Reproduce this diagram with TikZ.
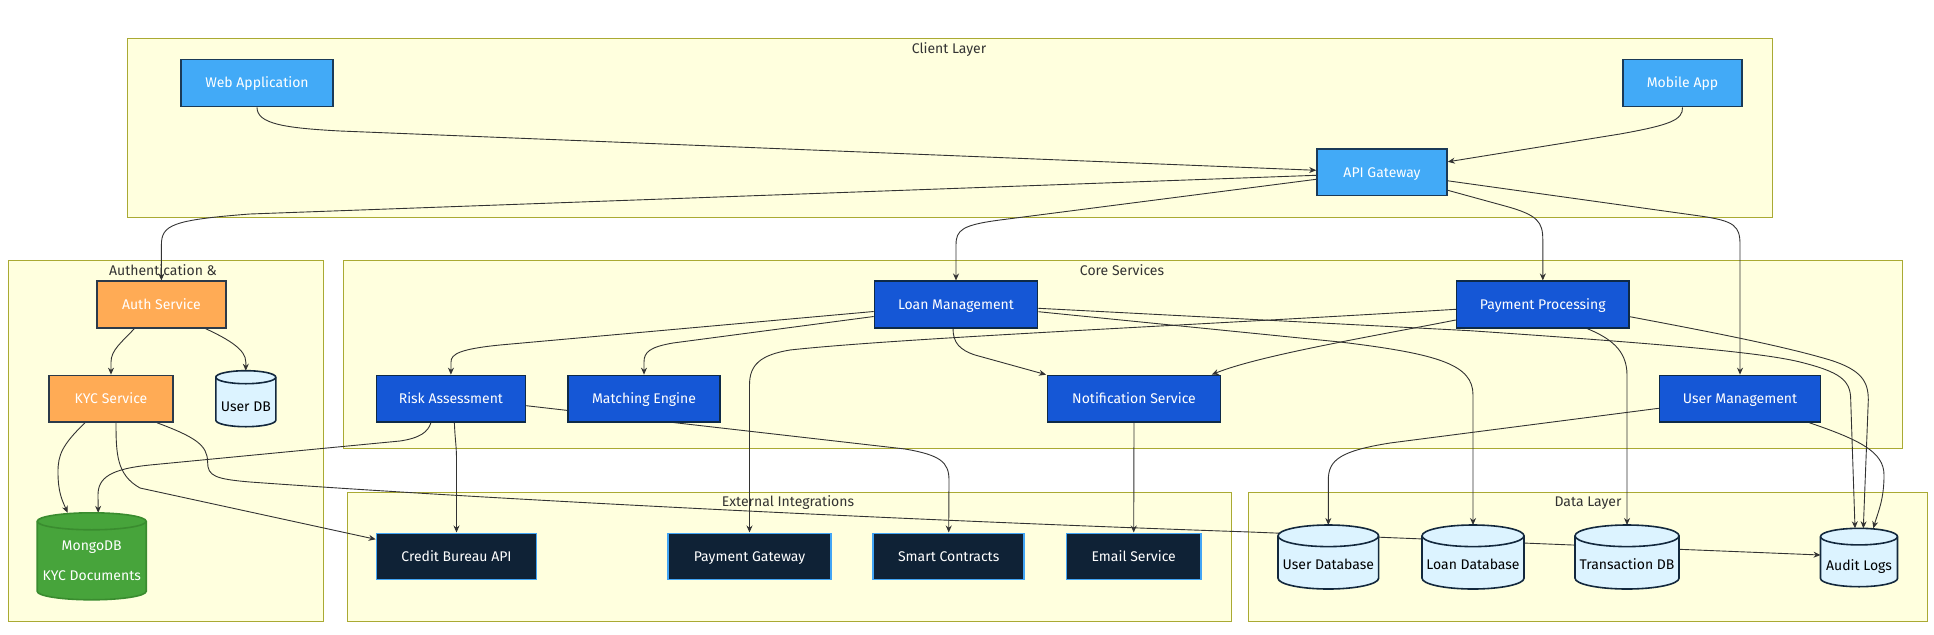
\documentclass[tikz,border=0pt]{standalone}
\usepackage{fontspec}
\setmainfont{Fira Sans}
\usetikzlibrary{calc,arrows.meta}
\pgfdeclarelayer{bg}
\pgfdeclarelayer{edgelayer}
\pgfdeclarelayer{cyl}
\pgfsetlayers{bg,edgelayer,cyl,main}
\definecolor{sgfill}{HTML}{FFFFDE}
\definecolor{sgline}{HTML}{AAAA33}
\definecolor{clientfill}{HTML}{42AAF7}
\definecolor{clientline}{HTML}{1B3A57}
\definecolor{authfill}{HTML}{FFAB55}
\definecolor{authline}{HTML}{2B3A4A}
\definecolor{corefill}{HTML}{1557D6}
\definecolor{coreline}{HTML}{0E2A47}
\definecolor{extfill}{HTML}{0F2236}
\definecolor{extline}{HTML}{42A5F5}
\definecolor{dbfill}{HTML}{DCF3FF}
\definecolor{dbline}{HTML}{13283D}
\definecolor{mongofill}{HTML}{47A43B}
\definecolor{mongoline}{HTML}{3A8C2F}
\definecolor{edgec}{HTML}{333333}
\definecolor{titlec}{HTML}{333333}
\newcommand\nfont{\fontsize{14}{17}\selectfont}
\newcommand\dbshape[3]{%
  \begin{pgfonlayer}{cyl}
  \path[#3] let \p1=(#1.north west), \p2=(#1.south east), \n1={(\x2-\x1)/2} in
    (\x1,\y1-#2pt) -- (\x1,\y2+#2pt)
    arc[start angle=180,end angle=360,x radius=\n1,y radius=#2pt]
    -- (\x2,\y1-#2pt)
    arc[start angle=0,end angle=180,x radius=\n1,y radius=#2pt] -- cycle;
  \path[#3,fill=none] let \p1=(#1.north west), \p2=(#1.south east), \n1={(\x2-\x1)/2} in
    (\x1,\y1-#2pt) arc[start angle=180,end angle=360,x radius=\n1,y radius=#2pt];
  \end{pgfonlayer}}
\begin{document}
\begin{tikzpicture}[x=1pt,y=-1pt,
  sg/.style={rectangle, fill=sgfill, draw=sgline, line width=1pt, anchor=north west, inner sep=0pt},
  sgtitle/.style={text=titlec, font=\nfont, inner sep=0pt, text height=9.8pt, text depth=0pt},
  box/.style={rectangle, inner sep=0pt, line width=1.6pt, font=\nfont, text=white, text height=9.8pt, text depth=0pt},
  clientn/.style={box, fill=clientfill, draw=clientline},
  authn/.style={box, fill=authfill, draw=authline},
  coren/.style={box, fill=corefill, draw=coreline},
  extn/.style={box, fill=extfill, draw=extline},
  cylnode/.style={rectangle, inner sep=0pt, outer sep=0pt, draw=none},
  dbstyle/.style={fill=dbfill, draw=dbline, line width=1.6pt},
  mongostyle/.style={fill=mongofill, draw=mongoline, line width=1.6pt},
  dbtext/.style={font=\nfont, text=black, inner sep=0pt, text height=9.8pt, text depth=0pt},
  edge/.style={draw=edgec, line width=0.9pt, -{Stealth[length=7pt,width=6pt]}}
]
\useasboundingbox (0,0) rectangle (1934,634);
\begin{pgfonlayer}{bg}
\fill[white] (0,0) rectangle (1934,634);
\node[sg, minimum width=1645pt, minimum height=179pt] (client) at (127,38) {};
\node[sg, minimum width=315pt, minimum height=361pt] (authsg) at (8,260) {};
\node[sg, minimum width=1559pt, minimum height=187.5pt] (core) at (343,260) {};
\node[sg, minimum width=884pt, minimum height=129.5pt] (ext) at (347,491.7) {};
\node[sg, minimum width=679pt, minimum height=129.5pt] (data) at (1248,491.7) {};
\end{pgfonlayer}
\node[sgtitle] (clientT) at (949,49) {Client Layer};
\node[sgtitle] (authT) at (163,270.7) {Authentication \&};
\node[sgtitle] (coreT) at (1122,270.7) {Core Services};
\node[sgtitle] (extT) at (788,502) {External Integrations};
\node[sgtitle] (dataT) at (1588,502) {Data Layer};
% client
\node[clientn, minimum width=152pt, minimum height=47pt] (web) at (257,83) {Web Application};
\node[clientn, minimum width=119pt, minimum height=47pt] (mob) at (1682.5,83) {Mobile App};
\node[clientn, minimum width=130pt, minimum height=46.5pt] (api) at (1382,172.3) {API Gateway};
% auth
\node[authn, minimum width=129pt, minimum height=46.5pt] (auth) at (161.4,304.5) {Auth Service};
\node[authn, minimum width=124.5pt, minimum height=46.5pt] (kyc) at (111,398.7) {KYC Service};
\node[cylnode, minimum width=60pt, minimum height=56pt] (udb) at (245.8,398.7) {};
\node[dbtext] (udbT) at ([yshift=-8pt]udb.center) {User DB};
\node[cylnode, minimum width=109pt, minimum height=87pt] (mongo) at (91.7,556.3) {};
\node[text=white, inner sep=0pt, align=center, font=\fontsize{14}{29.7}\selectfont] (mongoT) at ([yshift=-4.6pt]mongo.center) {MongoDB\\KYC Documents};
% core
\node[coren, minimum width=163pt, minimum height=46.5pt] (loan) at (956,304.5) {Loan Management};
\node[coren, minimum width=172.5pt, minimum height=46.5pt] (pay) at (1542.8,304.5) {Payment Processing};
\node[coren, minimum width=149pt, minimum height=46.5pt] (risk) at (450.9,398.7) {Risk Assessment};
\node[coren, minimum width=152pt, minimum height=46.5pt] (match) at (644,398.7) {Matching Engine};
\node[coren, minimum width=173pt, minimum height=46.5pt] (notif) at (1134,398.7) {Notification Service};
\node[coren, minimum width=161pt, minimum height=46.5pt] (um) at (1740,398.7) {User Management};
% external
\node[extn, minimum width=160pt, minimum height=46pt] (credit) at (456.5,556.3) {Credit Bureau API};
\node[extn, minimum width=163pt, minimum height=46pt] (paygw) at (749.5,556.3) {Payment Gateway};
\node[extn, minimum width=151pt, minimum height=46pt] (smart) at (948.7,556.3) {Smart Contracts};
\node[extn, minimum width=134.5pt, minimum height=46pt] (email) at (1133.7,556.3) {Email Service};
% data
\node[cylnode, minimum width=100.6pt, minimum height=64pt] (udb2) at (1328.3,557) {};
\node[dbtext] (udb2T) at ([yshift=-8pt]udb2.center) {User Database};
\node[cylnode, minimum width=102pt, minimum height=64pt] (loandb) at (1473,557) {};
\node[dbtext] (loandbT) at ([yshift=-8pt]loandb.center) {Loan Database};
\node[cylnode, minimum width=104pt, minimum height=64pt] (trans) at (1627,557) {};
\node[dbtext] (transT) at ([yshift=-8pt]trans.center) {Transaction DB};
\node[cylnode, minimum width=77pt, minimum height=58.4pt] (audit) at (1859,557.5) {};
\node[dbtext] (auditT) at ([yshift=-8.5pt]audit.center) {Audit Logs};
\dbshape{udb}{6.5}{dbstyle}
\dbshape{mongo}{8.5}{mongostyle}
\dbshape{udb2}{10.8}{dbstyle}
\dbshape{loandb}{10.8}{dbstyle}
\dbshape{trans}{10.8}{dbstyle}
\dbshape{audit}{8.3}{dbstyle}
% edges
\begin{pgfonlayer}{edgelayer}
\draw[edge] (web.south) .. controls (257,124) and (285,128) .. (340,131) -- ([yshift=2pt]api.west);
\draw[edge] (mob.south) .. controls (1683,120) and (1670,125) .. (1620,134) -- ([yshift=10.5pt]api.east);
\draw[edge] ([yshift=-3pt]api.west) -- (250,214) .. controls (172,220) and (161.4,225) .. (161.4,245) -- (auth.north);
\draw[edge] ([yshift=-7pt]api.west) -- (1000,220) .. controls (962,225) and (956,230) .. (956,245) -- (loan.north);
\draw[edge] ([yshift=-18pt]api.east) -- (1505,206) .. controls (1538,215) and (1542.8,222) .. (1542.8,240) -- (pay.north);
\draw[edge] ([yshift=-8.5pt]api.east) -- (1700,216) .. controls (1735,221) and (1740,226) .. (1740,245) -- (um.north);
\draw[edge] ([xshift=-27pt]auth.south) .. controls (122,342) and (111,350) .. (111,362) -- (kyc.north);
\draw[edge] ([xshift=44pt]auth.south) .. controls (230,340) and (245.8,350) .. (245.8,362) -- (udb.north);
\draw[edge] ([xshift=-26pt]kyc.south) .. controls (62,445) and (58,455) .. (58,472) .. controls (58,492) and (62,500) .. ([xshift=-24pt]mongo.north);
\draw[edge] ([xshift=5pt]kyc.south) .. controls (116,455) and (117,475) .. (140,488) -- ([yshift=17pt]credit.west);
\draw[edge] ([xshift=46pt]kyc.south) .. controls (195,437) and (207.6,445) .. (207.6,462) .. controls (207.6,476) and (215,479) .. (250,482) .. controls (500,500) and (900,520) .. (1250,532) -- ([yshift=2.5pt]audit.west);
\draw[edge] ([xshift=-20pt]risk.south) .. controls (428,432) and (420,438) .. (400,441) -- (150,465) .. controls (110,469) and (98,478) .. (98,495) -- ([xshift=6.5pt]mongo.north);
\draw[edge] ([xshift=3.5pt]risk.south) .. controls (455,440) and (456.5,445) .. (456.5,460) -- (credit.north);
\draw[edge] ([yshift=-7pt]risk.east) -- (905,449) .. controls (940,455) and (949,462) .. (949,480) -- (smart.north);
\draw[edge] ([yshift=-7pt]loan.west) -- (500,345) .. controls (460,349) and (451,354) .. (451,362) -- (risk.north);
\draw[edge] ([yshift=-12pt]loan.west) -- (673,343) .. controls (650,347) and (644,352) .. (644,362) -- (match.north);
\draw[edge] ([xshift=-3pt]loan.south) .. controls (953,343) and (960,350) .. (975,355) -- ([xshift=-88pt]notif.north);
\draw[edge] ([yshift=-15.5pt]pay.west) .. controls (1380,335) and (1260,355) .. ([xshift=77.7pt]notif.north);
\draw[edge] ([yshift=-4.8pt]pay.west) .. controls (1200,325) and (900,338) .. (790,350) .. controls (760,355) and (749.5,365) .. (749.5,385) -- (paygw.north);
\draw[edge] ([yshift=-7.2pt]loan.east) -- (1340,342) .. controls (1440,354) and (1473,365) .. (1473,395) -- (loandb.north);
\draw[edge] ([yshift=-3.8pt]loan.east) -- (1470,330.7) .. controls (1650,343) and (1760,352) .. (1800,362) .. controls (1840,372) and (1850.7,380) .. (1850.7,400) -- ([xshift=-4pt]audit.north);
\draw[edge] ([xshift=44.2pt]pay.south) .. controls (1610,338) and (1627,350) .. (1627,375) -- (trans.north);
\draw[edge] ([yshift=-12.2pt]pay.east) .. controls (1700,330) and (1780,345) .. (1830,360) .. controls (1862,370) and (1868.3,382) .. (1868.3,400) -- ([xshift=4.3pt]audit.north);
\draw[edge] ([yshift=-9.6pt]um.west) -- (1390,443) .. controls (1340,451) and (1328.3,460) .. (1328.3,480) -- (udb2.north);
\draw[edge] ([xshift=69.4pt]um.south) .. controls (1860,440) and (1884,452) .. (1884,475) .. controls (1884,500) and (1878,512) .. ([xshift=14.3pt]audit.north);
\draw[edge] (notif.south) -- (email.north);
\end{pgfonlayer}
\end{tikzpicture}
\end{document}
